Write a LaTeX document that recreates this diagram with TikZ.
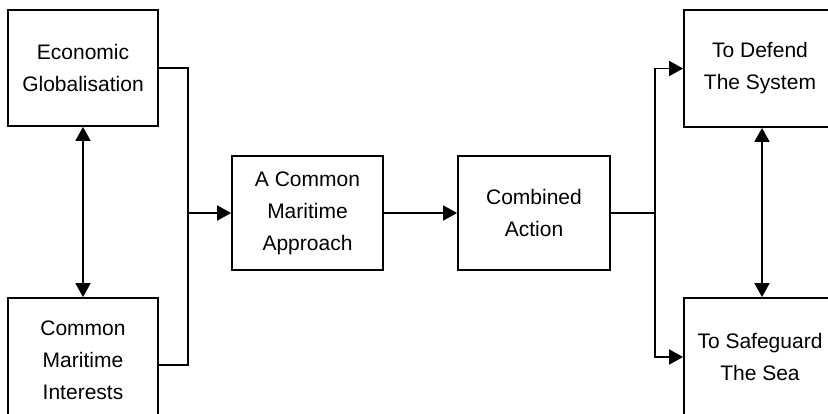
\documentclass[tikz,border=0pt]{standalone}
\usepackage{fontspec}
\setmainfont{Liberation Sans}
\usetikzlibrary{arrows.meta}
\begin{document}
\begin{tikzpicture}[x=1pt,y=-1pt,
  box/.style={draw=black, line width=1.8pt, fill=white, rectangle, align=center,
    font=\fontsize{21}{32}\selectfont, inner sep=0pt},
  conn/.style={line width=1.8pt, line join=miter},
  tip/.style={-{Triangle[length=14pt,width=15pt]}},
  dtip/.style={{Triangle[length=14pt,width=15pt]}-{Triangle[length=14pt,width=15pt]}}]
\useasboundingbox (0,0) rectangle (828,413);
\clip (0,0) rectangle (828,413);
\node[box, minimum width=150pt, minimum height=116pt] (eg) at (83,68) {Economic\\Globalisation};
\node[box, minimum width=150pt, minimum height=124pt] (cmi) at (83,360) {Common\\Maritime\\Interests};
\node[box, minimum width=151pt, minimum height=114pt] (app) at (307.5,213) {A Common\\Maritime\\Approach};
\node[box, minimum width=152pt, minimum height=114pt] (comb) at (534,213) {Combined\\Action};
\node[box, minimum width=152pt, minimum height=117pt] (def) at (760,68.5) {To Defend\\The System};
\node[box, minimum width=152pt, minimum height=118pt] (safe) at (760,357) {To Safeguard\\The Sea};
\coordinate (j1) at (188,213);
\coordinate (j2) at (655,213);
\draw[conn] (eg.east) -| (j1) |- ([yshift=-5pt]cmi.east);
\draw[conn,tip] (j1) -- (app.west);
\draw[conn,dtip] (eg.south) -- (cmi.north);
\draw[conn,tip] (app.east) -- (comb.west);
\draw[conn] (comb.east) -- (j2);
\draw[conn,tip] (j2) |- (def.west);
\draw[conn,tip] (j2) |- (safe.west);
\draw[conn,dtip] ([xshift=2pt]def.south) -- ([xshift=2pt]safe.north);
\end{tikzpicture}
\end{document}
